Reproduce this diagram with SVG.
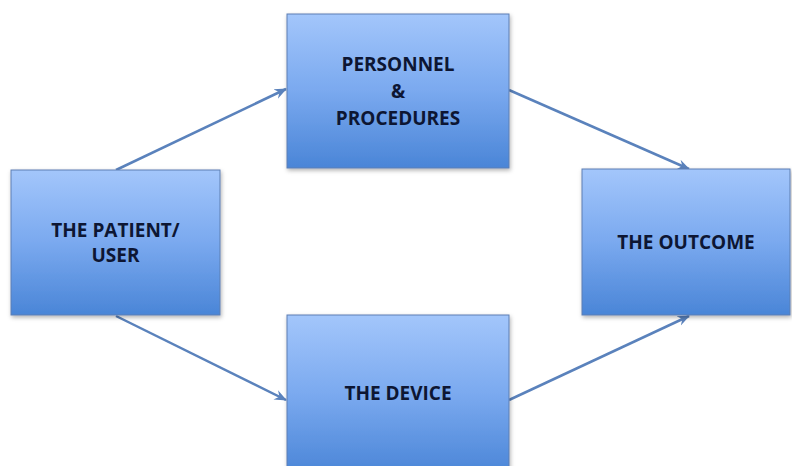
<svg xmlns="http://www.w3.org/2000/svg" width="792" height="466" viewBox="0 0 792 466">
<defs>
<linearGradient id="g" x1="0" y1="0" x2="0" y2="1">
<stop offset="0" stop-color="#a3c6fb"/>
<stop offset="0.5" stop-color="#7aa9ef"/>
<stop offset="1" stop-color="#4a85d7"/>
</linearGradient>
<filter id="sh" x="-5%" y="-5%" width="115%" height="115%">
<feDropShadow dx="1" dy="2" stdDeviation="2" flood-color="#000" flood-opacity="0.3"/>
</filter>
<marker id="ah" viewBox="0 0 12 10" refX="11" refY="5" markerWidth="5" markerHeight="5" orient="auto" markerUnits="strokeWidth">
<path d="M0,0 L12,5 L0,10 L4,5 z" fill="#5a82bc"/>
</marker>
</defs>
<style>
.box{fill:url(#g);stroke:#5d7fb3;stroke-width:1;filter:url(#sh)}
.t{font-family:"Open Sans","DejaVu Sans",sans-serif;font-weight:bold;font-size:19px;fill:#0d1633;text-anchor:middle}
.c{stroke:#5a82bc;stroke-width:2.5;fill:none;marker-end:url(#ah)}
</style>
<rect width="792" height="466" fill="#fff"/>
<g id="connectors">
<line class="c" x1="116" y1="170" x2="286" y2="89"/>
<line class="c" x1="509" y1="90" x2="689" y2="169"/>
<line class="c" x1="116" y1="316" x2="286" y2="400"/>
<line class="c" x1="509" y1="400" x2="689" y2="316"/>
</g>
<g id="patient">
<rect class="box" x="11" y="170" width="209" height="145"/>
<text class="t" x="115.5" y="237">THE PATIENT/</text>
<text class="t" x="115.5" y="262">USER</text>
</g>
<g id="personnel">
<rect class="box" x="287" y="14" width="222" height="154"/>
<text class="t" x="398" y="71">PERSONNEL</text>
<text class="t" x="398" y="98">&amp;</text>
<text class="t" x="398" y="125">PROCEDURES</text>
</g>
<g id="outcome">
<rect class="box" x="582" y="169" width="208" height="146"/>
<text class="t" x="686" y="249">THE OUTCOME</text>
</g>
<g id="device">
<rect class="box" x="287" y="315" width="222" height="160"/>
<text class="t" x="398" y="400">THE DEVICE</text>
</g>
</svg>
